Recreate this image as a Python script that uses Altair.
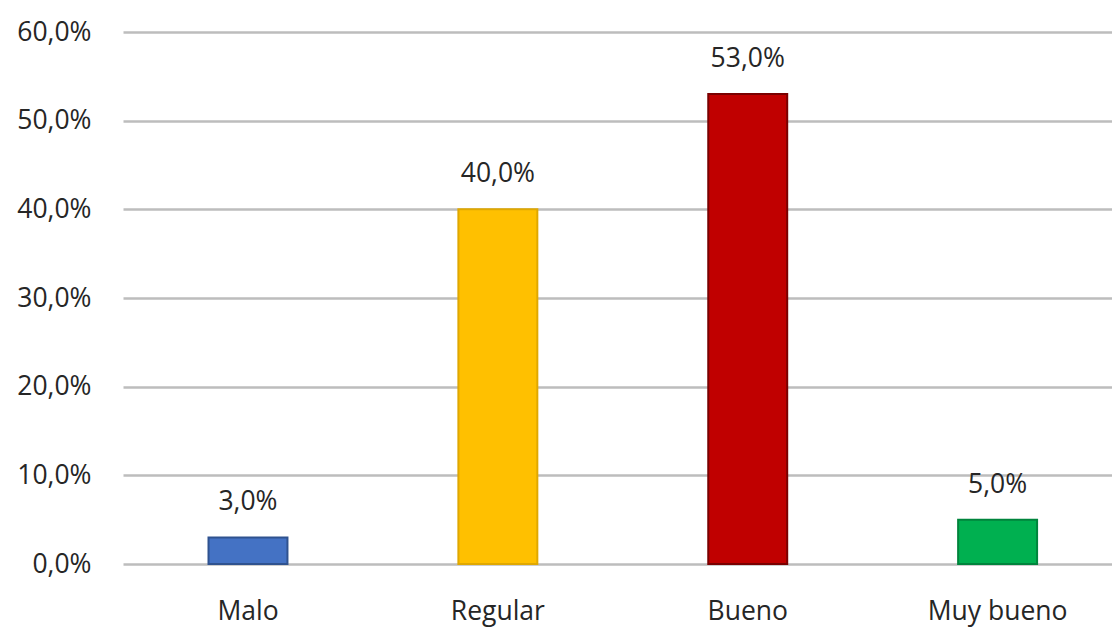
import altair as alt
import pandas as pd

categories = ["Malo", "Regular", "Bueno", "Muy bueno"]
values = [3.0, 40.0, 53.0, 5.0]
fills = ["#4472C4", "#FFC000", "#C00000", "#00B050"]
strokes = ["#2F528F", "#E0A800", "#7A0000", "#00843C"]
y_ticks = [0, 10, 20, 30, 40, 50, 60]

df = pd.DataFrame({"cat": categories, "val": values, "fill": fills, "stroke": strokes})

FONT = "Open Sans"
FS = 26.5
TXT = "#262626"

x = alt.X("cat:N", sort=categories, title=None,
          scale=alt.Scale(paddingInner=0.684, paddingOuter=0.321, align=0.533),
          axis=alt.Axis(labelAngle=0, labelFontSize=FS, labelFont=FONT, labelColor=TXT,
                        ticks=False, domain=False, labelPadding=34, grid=False))
y = alt.Y("val:Q", title=None,
          scale=alt.Scale(domain=[0, 60], nice=False),
          axis=alt.Axis(values=y_ticks, labelFontSize=FS, labelFont=FONT, labelColor=TXT,
                        labelExpr="replace(format(datum.value, '.1f'), '.', ',') + '%'",
                        ticks=False, domain=False, labelPadding=32,
                        grid=True, gridColor="#BDBDBD", gridWidth=2.5))

bars = alt.Chart(df).mark_bar(strokeWidth=2).encode(
    x=x, y=y,
    color=alt.Color("fill:N", scale=None),
    stroke=alt.Stroke("stroke:N", scale=None),
)

labels = alt.Chart(df).transform_calculate(
    lab="replace(format(datum.val, '.1f'), '.', ',') + '%'"
).mark_text(font=FONT, fontSize=FS, color=TXT, baseline="alphabetic", dy=-27).encode(
    x=alt.X("cat:N", sort=categories),
    y=alt.Y("val:Q"),
    text="lab:N",
)

chart = alt.layer(bars, labels).properties(
    width=989, height=532,
    background="white",
    autosize=alt.AutoSizeParams(type="none"),
    padding={"left": 123, "top": 32, "right": 0, "bottom": 64},
).configure_view(stroke=None)

chart.save("out.html", embed_options={"renderer": "svg", "actions": False})
